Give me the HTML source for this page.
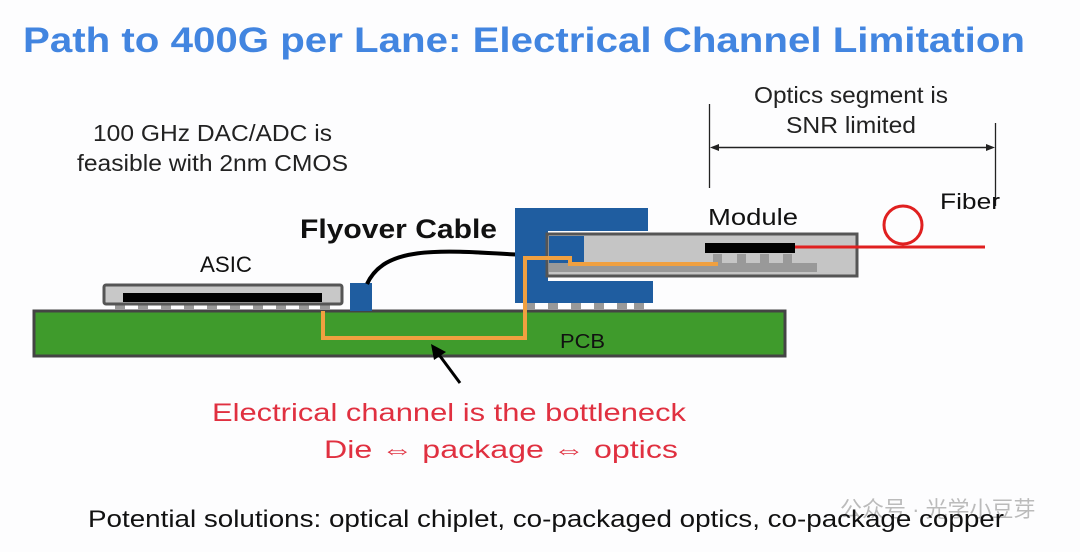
<!DOCTYPE html>
<html><head><meta charset="utf-8"><style>
html,body{margin:0;padding:0;background:#fdfdfe;}
svg{display:block;}
</style></head><body>
<svg width="1080" height="552" viewBox="0 0 1080 552" xmlns="http://www.w3.org/2000/svg" font-family="Liberation Sans, sans-serif">
<rect width="1080" height="552" fill="#fdfdfe"/>
<text x="23" y="52" font-size="35" font-weight="bold" fill="#4285e0" textLength="1002" lengthAdjust="spacingAndGlyphs">Path to 400G per Lane: Electrical Channel Limitation</text>
<g font-size="23" fill="#222">
<text x="93" y="141" textLength="239" lengthAdjust="spacingAndGlyphs">100 GHz DAC/ADC is</text>
<text x="77" y="171" textLength="271" lengthAdjust="spacingAndGlyphs">feasible with 2nm CMOS</text>
<text x="754" y="103" textLength="194" lengthAdjust="spacingAndGlyphs">Optics segment is</text>
<text x="786" y="133" textLength="130" lengthAdjust="spacingAndGlyphs">SNR limited</text>
</g>
<line x1="709.500" y1="104" x2="709.500" y2="188" stroke="#222" stroke-width="1.3"/>
<line x1="995.500" y1="123" x2="995.500" y2="206" stroke="#222" stroke-width="1.3"/>
<line x1="716" y1="147.500" x2="989" y2="147.500" stroke="#222" stroke-width="1.5"/>
<polygon points="710,147.500 719,144 719,151" fill="#222"/>
<polygon points="995,147.500 986,144 986,151" fill="#222"/>
<!-- PCB -->
<rect x="34" y="311" width="751" height="45" fill="#3f9b2c" stroke="#444" stroke-width="3"/>
<text x="560" y="348" font-size="20" fill="#111" textLength="45" lengthAdjust="spacingAndGlyphs">PCB</text>
<!-- bumps -->
<g fill="#999">
<rect x="115" y="305" width="10" height="5"/><rect x="138" y="305" width="10" height="5"/><rect x="161" y="305" width="10" height="5"/><rect x="184" y="305" width="10" height="5"/><rect x="207" y="305" width="10" height="5"/><rect x="230" y="305" width="10" height="5"/><rect x="253" y="305" width="10" height="5"/><rect x="276" y="305" width="10" height="5"/><rect x="299" y="305" width="10" height="5"/><rect x="320" y="305" width="10" height="5"/>
<rect x="525" y="303" width="10" height="7"/><rect x="548" y="303" width="10" height="7"/><rect x="571" y="303" width="10" height="7"/><rect x="594" y="303" width="10" height="7"/><rect x="617" y="303" width="10" height="7"/><rect x="634" y="303" width="10" height="7"/>
</g>
<rect x="104" y="285" width="238" height="19" rx="2" fill="#c8c8c8" stroke="#555" stroke-width="3"/>
<rect x="123" y="293" width="199" height="9" fill="#000"/>
<text x="200" y="272" font-size="22" fill="#111" textLength="52" lengthAdjust="spacingAndGlyphs">ASIC</text>
<!-- flyover -->
<rect x="350" y="283" width="22" height="28" fill="#1f5da0"/>
<path d="M367,284 C385,245 440,250 523,255" fill="none" stroke="#000" stroke-width="4"/>
<circle cx="523" cy="255" r="3.500" fill="#000"/>
<text x="300" y="238" font-size="27" font-weight="bold" fill="#111" textLength="197" lengthAdjust="spacingAndGlyphs">Flyover Cable</text>
<!-- connector -->
<path d="M515,208 H648 V231 H548 V281 H653 V303 H515 Z" fill="#1f5da0"/>
<!-- module -->
<rect x="547" y="234" width="310" height="42" fill="#c5c5c5" stroke="#555" stroke-width="3"/>
<rect x="549" y="236" width="35" height="28" fill="#1f5da0"/>
<rect x="549" y="263" width="268" height="9" fill="#999"/>
<g fill="#999"><rect x="713" y="254" width="9" height="9"/><rect x="737" y="254" width="9" height="9"/><rect x="760" y="254" width="9" height="9"/><rect x="783" y="254" width="9" height="9"/></g>
<rect x="705" y="243" width="90" height="10" fill="#000"/>
<text x="708" y="225" font-size="23" fill="#111" textLength="90" lengthAdjust="spacingAndGlyphs">Module</text>
<!-- orange trace -->
<path d="M323,311 V338 H525 V258 H570 V264 H718" fill="none" stroke="#f0a040" stroke-width="4"/>
<!-- fiber -->
<line x1="795" y1="247" x2="985" y2="247" stroke="#e02020" stroke-width="3"/>
<circle cx="903" cy="225" r="19" fill="none" stroke="#e02020" stroke-width="3"/>
<text x="940" y="209" font-size="22" fill="#111" textLength="60" lengthAdjust="spacingAndGlyphs">Fiber</text>
<!-- arrow -->
<line x1="460" y1="383" x2="437" y2="352" stroke="#000" stroke-width="3"/>
<polygon points="431,344 446,352 434,360" fill="#000"/>
<g font-size="25" fill="#e03040">
<text x="212" y="421" textLength="474" lengthAdjust="spacingAndGlyphs">Electrical channel is the bottleneck</text>
<text x="324" y="458" textLength="354" lengthAdjust="spacingAndGlyphs">Die ⇔  package ⇔ optics</text>
</g>
<text x="840" y="517" font-size="22" fill="#bbb" font-family="Liberation Sans, Noto Sans CJK SC, sans-serif">公众号 · 光学小豆芽</text>
<text x="88" y="527" font-size="24" fill="#111" textLength="916" lengthAdjust="spacingAndGlyphs">Potential solutions: optical chiplet, co-packaged optics, co-package copper</text>
</svg>
</body></html>
